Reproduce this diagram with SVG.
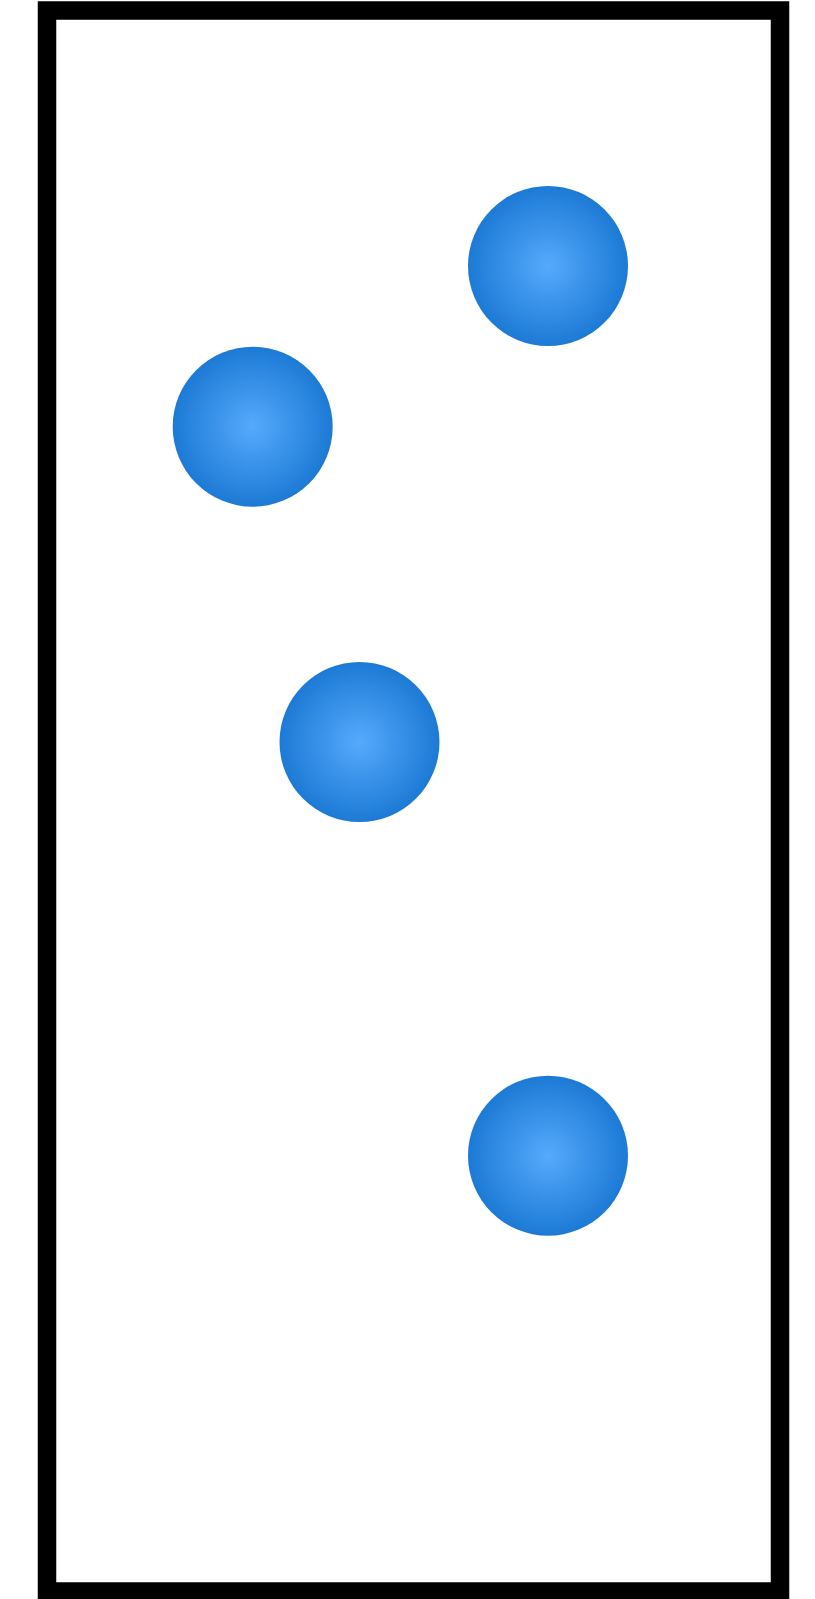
<svg xmlns="http://www.w3.org/2000/svg" width="815" height="1599" viewBox="0 0 815 1599">
<defs>
<radialGradient id="ball" cx="0.5" cy="0.5" r="0.5">
<stop offset="0" stop-color="#56aafc"/>
<stop offset="1" stop-color="#1c7ad5"/>
</radialGradient>
<style>
.ball{fill:url(#ball);}
.box{fill:#fff;stroke:#000;stroke-width:18.5;}
</style>
</defs>
<rect width="815" height="1599" fill="#fff"/>
<g id="container"><rect class="box" x="47" y="10.5" width="733" height="1581"/></g>
<g id="ball1"><circle class="ball" cx="548" cy="266" r="80"/></g>
<g id="ball2"><circle class="ball" cx="252.7" cy="426.7" r="80"/></g>
<g id="ball3"><circle class="ball" cx="359.5" cy="742" r="80"/></g>
<g id="ball4"><circle class="ball" cx="548" cy="1155.7" r="80"/></g>
<g id="connectors"></g>
</svg>
